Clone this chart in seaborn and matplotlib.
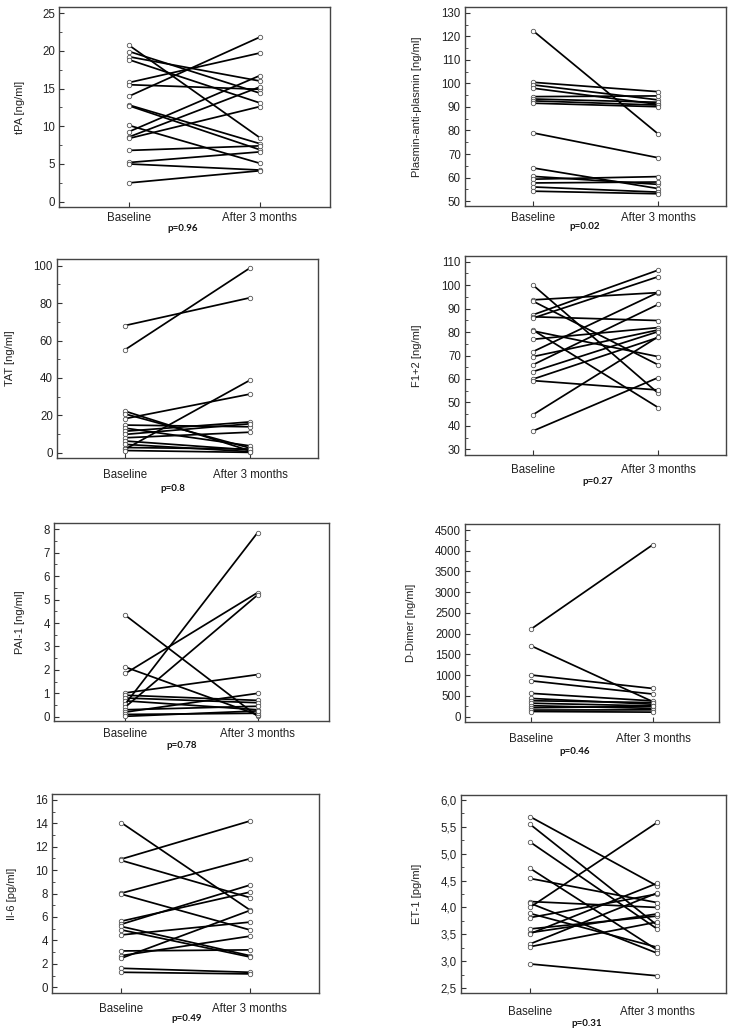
import numpy as np
import pandas as pd
import matplotlib
matplotlib.use("Agg")
import matplotlib.pyplot as plt
import seaborn as sns
from matplotlib.ticker import MultipleLocator, AutoMinorLocator, FuncFormatter

sns.set_style("ticks")
plt.rcParams['font.family'] = ['Liberation Sans', 'DejaVu Sans']

times = ["Baseline", "After 3 months"]

# values, one pair per subject
tpa_base = [20.7, 19.9, 19.2, 18.8, 15.8, 15.5, 14.0, 12.8, 12.7, 10.1, 9.3, 8.6, 8.4, 6.8, 5.2, 5.0, 2.5]
tpa_after = [8.5, 14.4, 16.0, 13.1, 19.7, 14.9, 21.8, 7.7, 6.9, 5.1, 16.7, 15.2, 12.6, 7.4, 6.6, 4.2, 4.1]

pap_base = [122.5, 100.5, 99.4, 98.0, 94.4, 93.4, 92.6, 91.6, 79.0, 64.1, 60.5, 59.3, 57.7, 56.0, 54.2]
pap_after = [78.5, 96.5, 93.0, 91.1, 94.7, 92.0, 90.8, 90.1, 68.4, 55.3, 57.1, 60.4, 58.1, 53.8, 53.1]

tat_base = [68.0, 55.0, 22.3, 20.8, 18.2, 14.8, 13.2, 11.5, 9.8, 8.0, 6.3, 4.5, 2.8, 1.8, 1.2]
tat_after = [82.9, 98.9, 1.0, 2.5, 31.4, 13.9, 3.7, 16.5, 15.5, 11.0, 1.5, 0.6, 2.0, 38.9, 0.2]

f12_base = [100.1, 93.7, 93.2, 87.3, 86.5, 85.9, 80.9, 80.5, 76.9, 71.6, 69.5, 66.0, 63.1, 59.9, 59.3, 44.7, 37.8]
f12_after = [53.9, 96.8, 66.0, 106.4, 84.9, 103.6, 47.8, 69.5, 81.9, 96.9, 80.9, 91.8, 80.2, 77.7, 55.3, 78.0, 60.6]

pai_base = [4.33, 2.12, 1.85, 1.02, 0.92, 0.80, 0.68, 0.55, 0.42, 0.30, 0.20, 0.10, 0.02]
pai_after = [0.02, 0.08, 5.30, 1.80, 0.70, 0.60, 0.30, 7.86, 5.20, 0.45, 1.00, 0.15, 0.25]

dd_base = [2110, 1710, 1005, 865, 563, 440, 385, 325, 265, 215, 160, 125]
dd_after = [4150, 360, 680, 545, 380, 300, 340, 260, 200, 250, 165, 110]

il6_base = [14.05, 10.94, 10.83, 8.03, 7.95, 5.64, 5.38, 5.19, 4.9, 4.47, 3.1, 2.7, 2.48, 1.62, 1.28]
il6_after = [6.61, 14.19, 7.66, 10.97, 4.9, 8.12, 8.72, 2.7, 2.59, 5.56, 3.19, 4.36, 6.55, 1.28, 1.14]

et1_base = [5.69, 5.55, 5.22, 4.73, 4.54, 4.11, 4.08, 4.0, 3.89, 3.81, 3.6, 3.53, 3.51, 3.32, 3.27, 2.95]
et1_after = [4.40, 3.67, 3.60, 3.21, 4.09, 4.00, 3.15, 5.58, 3.26, 4.25, 3.84, 3.88, 4.45, 4.27, 3.73, 2.73]

ylabels = ["tPA [ng/ml]", "Plasmin-anti-plasmin [ng/ml]", "TAT [ng/ml]", "F1+2 [ng/ml]",
           "PAI-1 [ng/ml]", "D-Dimer [ng/ml]", "Il-6 [pg/ml]", "ET-1 [pg/ml]"]
pvalues = ["p=0.96", "p=0.02", "p=0.8", "p=0.27", "p=0.78", "p=0.46", "p=0.49", "p=0.31"]
tick_steps = [5, 10, 20, 10, 1, 500, 2, 0.5]

series = [(tpa_base, tpa_after), (pap_base, pap_after), (tat_base, tat_after), (f12_base, f12_after),
          (pai_base, pai_after), (dd_base, dd_after), (il6_base, il6_after), (et1_base, et1_after)]

# layout: axes boxes in pixels (left, right, top, bottom), y ranges, label offsets
boxes = [(59, 330, 7, 207), (465, 726, 7, 206), (57, 318, 259, 458), (465, 726, 256, 455),
         (54, 329, 523, 721), (465, 719, 524, 722), (52, 319, 794, 993), (461, 726, 795, 993)]
ylims = [(-0.7, 25.8), (47.9, 132.5), (-2.8, 103.6), (27.6, 112.4),
         (-0.18, 8.27), (-128, 4645), (-0.49, 16.5), (2.41, 6.09)]
ylab_x = [-0.125, -0.165, -0.161, -0.165, -0.105, -0.193, -0.131, -0.147]
xpads = [3.6, 4.3, 8, 6.5, 5, 8, 7, 9.4]
p_x = [0.455, 0.46, 0.445, 0.51, 0.465, 0.43, 0.505, 0.475]
p_dy = [15.8, 15.1, 22.3, 19.4, 18, 21.6, 18.7, 21.6]

W, H = 734, 1036
fig = plt.figure(figsize=(W / 100, H / 100), dpi=100)

for i, (base, after) in enumerate(series):
    l, r, t, b = boxes[i]
    ax = fig.add_axes([l / W, 1 - b / H, (r - l) / W, (b - t) / H])
    n = len(base)
    df = pd.DataFrame({
        "subject": list(range(n)) * 2,
        "time": [times[0]] * n + [times[1]] * n,
        "value": list(base) + list(after),
    })
    sns.lineplot(data=df, x="time", y="value", units="subject", estimator=None,
                 color="black", linewidth=1.25, marker="o", markersize=3.2,
                 markerfacecolor="white", markeredgecolor="#555555",
                 markeredgewidth=0.6, sort=False, legend=False, ax=ax)
    ax.set_xlim(-0.54, 1.54)
    ax.set_ylim(*ylims[i])
    ax.set_xticks([0, 1])
    ax.set_xticklabels(times)
    ax.set_xlabel("")
    ax.set_ylabel(ylabels[i], fontsize=8, color="#222222")
    ax.yaxis.set_label_coords(ylab_x[i], 0.5)
    ax.yaxis.set_major_locator(MultipleLocator(tick_steps[i]))
    ax.yaxis.set_minor_locator(AutoMinorLocator(2))
    if i == 7:
        ax.yaxis.set_major_formatter(FuncFormatter(lambda v, pos: f"{v:.1f}".replace(".", ",")))
    for sp in ax.spines.values():
        sp.set_visible(True)
        sp.set_color("#444444")
        sp.set_linewidth(1.0)
    ax.tick_params(axis="both", which="major", direction="in", length=3.5, width=0.8,
                   color="#333333", labelsize=8.3, labelcolor="#222222")
    ax.tick_params(axis="y", which="minor", direction="in", length=2, width=0.6, color="#333333")
    ax.tick_params(axis="y", which="major", pad=3)
    ax.tick_params(axis="x", which="major", pad=xpads[i])
    ax.annotate(pvalues[i], xy=(p_x[i], 0), xycoords="axes fraction",
                xytext=(0, -p_dy[i]), textcoords="offset points",
                ha="center", va="center", fontsize=7, fontweight="bold",
                family=["Lato", "DejaVu Sans"], color="#111111")

fig.savefig("out.png", dpi=100)
